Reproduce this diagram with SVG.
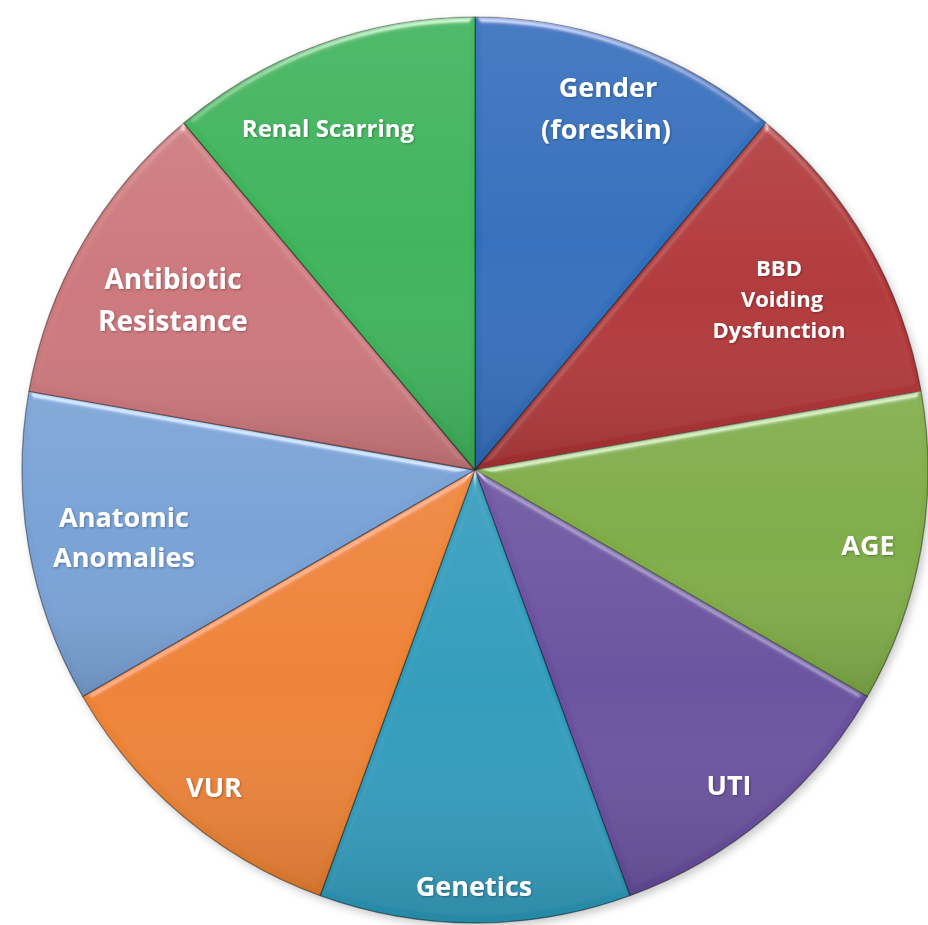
<svg xmlns="http://www.w3.org/2000/svg" width="928" height="925" viewBox="0 0 928 925">
  <style>
    .lbl { font-family: "Open Sans", "Liberation Sans", sans-serif; font-weight: 700; fill: #ffffff; text-anchor: middle; }
    .edge { stroke: #000; stroke-opacity: 0.4; stroke-width: 1.3; stroke-linejoin: round; }
    .shade { fill: url(#shade); }
  </style>
  <defs>
    <!-- soft vertical shading applied to every wedge -->
    <linearGradient id="shade" x1="0" y1="0" x2="0" y2="1">
      <stop offset="0" stop-color="#fff" stop-opacity="0.08"/>
      <stop offset="0.5" stop-color="#fff" stop-opacity="0"/>
      <stop offset="1" stop-color="#000" stop-opacity="0.12"/>
    </linearGradient>
    <!-- rounded bevel lit from above -->
    <filter id="bevel" x="-5%" y="-5%" width="110%" height="110%">
      <feGaussianBlur in="SourceAlpha" stdDeviation="3" result="blur"/>
      <feSpecularLighting in="blur" surfaceScale="4" specularConstant="0.9" specularExponent="25" lighting-color="#ffffff" result="spec">
        <feDistantLight azimuth="270" elevation="30"/>
      </feSpecularLighting>
      <feComposite in="spec" in2="SourceAlpha" operator="in" result="specIn"/>
      <feComposite in="SourceGraphic" in2="specIn" operator="arithmetic" k1="0" k2="1" k3="0.55" k4="0"/>
    </filter>
    <filter id="drop" x="-10%" y="-10%" width="120%" height="120%">
      <feGaussianBlur stdDeviation="4"/>
    </filter>
    <filter id="txt" x="-10%" y="-30%" width="120%" height="160%">
      <feGaussianBlur in="SourceAlpha" stdDeviation="1.2" result="b"/>
      <feOffset in="b" dx="0.8" dy="1" result="o"/>
      <feFlood flood-color="#000" flood-opacity="0.3"/>
      <feComposite in2="o" operator="in" result="s"/>
      <feMerge><feMergeNode in="s"/><feMergeNode in="SourceGraphic"/></feMerge>
    </filter>
  </defs>

  <rect width="928" height="925" fill="#ffffff"/>

  <!-- shadow under the pie -->
  <circle cx="478" cy="474" r="453" fill="#000" fill-opacity="0.22" filter="url(#drop)"/>

  <g id="gender">
    <path class="edge" filter="url(#bevel)" fill="#2e6cba" d="M475,470 L475,17 A453,453 0 0 1 766.2,123 Z"/>
    <path class="shade" d="M475,470 L475,17 A453,453 0 0 1 766.2,123 Z"/>
    <g class="lbl" font-size="27" filter="url(#txt)">
      <text x="608" y="97">Gender</text>
      <text x="606" y="139">(foreskin)</text>
    </g>
  </g>

  <g id="bbd">
    <path class="edge" filter="url(#bevel)" fill="#af3133" d="M475,470 L766.2,123 A453,453 0 0 1 921.1,391.3 Z"/>
    <path class="shade" d="M475,470 L766.2,123 A453,453 0 0 1 921.1,391.3 Z"/>
    <g class="lbl" font-size="22" filter="url(#txt)">
      <text x="779" y="276">BBD</text>
      <text x="782" y="307">Voiding</text>
      <text x="779" y="338">Dysfunction</text>
    </g>
  </g>

  <g id="age">
    <path class="edge" filter="url(#bevel)" fill="#7eab45" d="M475,470 L921.1,391.3 A453,453 0 0 1 867.3,696.5 Z"/>
    <path class="shade" d="M475,470 L921.1,391.3 A453,453 0 0 1 867.3,696.5 Z"/>
    <text class="lbl" font-size="27" x="868" y="555" filter="url(#txt)">AGE</text>
  </g>

  <g id="uti">
    <path class="edge" filter="url(#bevel)" fill="#674e9e" d="M475,470 L867.3,696.5 A453,453 0 0 1 629.9,895.7 Z"/>
    <path class="shade" d="M475,470 L867.3,696.5 A453,453 0 0 1 629.9,895.7 Z"/>
    <text class="lbl" font-size="27" x="729" y="795" filter="url(#txt)">UTI</text>
  </g>

  <g id="genetics">
    <path class="edge" filter="url(#bevel)" fill="#2a9abb" d="M475,470 L629.9,895.7 A453,453 0 0 1 320.1,895.7 Z"/>
    <path class="shade" d="M475,470 L629.9,895.7 A453,453 0 0 1 320.1,895.7 Z"/>
    <text class="lbl" font-size="27" x="474" y="896" filter="url(#txt)">Genetics</text>
  </g>

  <g id="vur">
    <path class="edge" filter="url(#bevel)" fill="#ec8130" d="M475,470 L320.1,895.7 A453,453 0 0 1 82.7,696.5 Z"/>
    <path class="shade" d="M475,470 L320.1,895.7 A453,453 0 0 1 82.7,696.5 Z"/>
    <text class="lbl" font-size="27" x="214" y="797" filter="url(#txt)">VUR</text>
  </g>

  <g id="anatomic">
    <path class="edge" filter="url(#bevel)" fill="#77a0d4" d="M475,470 L82.7,696.5 A453,453 0 0 1 28.9,391.3 Z"/>
    <path class="shade" d="M475,470 L82.7,696.5 A453,453 0 0 1 28.9,391.3 Z"/>
    <g class="lbl" font-size="27" filter="url(#txt)">
      <text x="124" y="527">Anatomic</text>
      <text x="124" y="567">Anomalies</text>
    </g>
  </g>

  <g id="antibiotic">
    <path class="edge" filter="url(#bevel)" fill="#cb767a" d="M475,470 L28.9,391.3 A453,453 0 0 1 183.8,123 Z"/>
    <path class="shade" d="M475,470 L28.9,391.3 A453,453 0 0 1 183.8,123 Z"/>
    <g class="lbl" font-size="28" filter="url(#txt)">
      <text x="173" y="289">Antibiotic</text>
      <text x="173" y="331">Resistance</text>
    </g>
  </g>

  <g id="renal">
    <path class="edge" filter="url(#bevel)" fill="#3bb259" d="M475,470 L183.8,123 A453,453 0 0 1 475,17 Z"/>
    <path class="shade" d="M475,470 L183.8,123 A453,453 0 0 1 475,17 Z"/>
    <text class="lbl" font-size="24" x="328" y="137" filter="url(#txt)">Renal Scarring</text>
  </g>
</svg>
